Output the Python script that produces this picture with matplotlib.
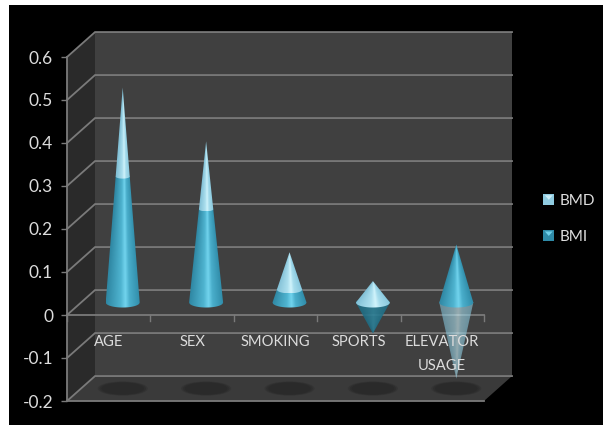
import matplotlib
matplotlib.use("Agg")
import matplotlib.pyplot as plt
from matplotlib.legend_handler import HandlerBase
from matplotlib.patches import Ellipse, Polygon, Rectangle
import numpy as np

plt.rcParams['font.family'] = ['Lato', 'DejaVu Sans']

categories = ["AGE", "SEX", "SMOKING", "SPORTS", "ELEVATOR\nUSAGE"]
bmi = [0.293, 0.217, 0.03, -0.072, 0.135]
bmd = [0.207, 0.158, 0.087, 0.05, -0.177]
y_ticks = [-0.2, -0.1, 0, 0.1, 0.2, 0.3, 0.4, 0.5, 0.6]
y_labels = ["-0.2", "-0.1", "0", "0.1", "0.2", "0.3", "0.4", "0.5", "0.6"]

W, H = 603, 425

# depth of the box, in data units
DEPTH_X = 0.336
DEPTH_Y = 0.058
# cone base radii, in data units
BASE_RX = 0.204
BASE_RY = 0.0116

LINE = "#7a7a7a"
TEXT = "#dcdcdc"

# colour stops across a cone, left edge to right edge
BMI_RAMP = [(0.0, "#2f87a3"), (0.42, "#4fb4d0"), (0.56, "#72d4ee"), (0.68, "#4aaecb"), (1.0, "#2f8ba8")]
BMI_DOWN_RAMP = [(0.0, "#1f6d84"), (0.5, "#2f8299"), (1.0, "#1f6f86")]
BMD_RAMP = [(0.0, "#82c0d6"), (0.42, "#acdfee"), (0.56, "#d2f4fc"), (0.68, "#a6dcec"), (1.0, "#86c6dc")]


def ramp_colors(ramp, u):
    pos = [s[0] for s in ramp]
    rgb = np.array([matplotlib.colors.to_rgb(s[1]) for s in ramp])
    return np.stack([np.interp(u, pos, rgb[:, c]) for c in range(3)], axis=-1)


def draw_segment(ax, xc, base_y, total, v0, v1, ramp, alpha, z):
    # one stretch of a cone whose base sits on 0 and whose tip is at total
    low, high = min(v0, v1), max(v0, v1)
    r_low = 1 - low / total
    r_high = 1 - high / total
    t = np.linspace(-1, 1, 60)
    arc = np.sqrt(1 - t ** 2)
    lower = np.column_stack([xc + t * BASE_RX * r_low,
                             base_y + low - arc * BASE_RY * r_low])
    upper = np.column_stack([xc - t * BASE_RX * r_high,
                             base_y + high + arc * BASE_RY * r_high])
    outline = np.vstack([lower, upper])
    clip = Polygon(outline, closed=True, transform=ax.transData)

    x0, x1 = xc - BASE_RX, xc + BASE_RX
    y0, y1 = outline[:, 1].min(), outline[:, 1].max()
    gx, gy = np.meshgrid(np.linspace(x0, x1, 80), np.linspace(y0, y1, 200))
    radius = np.maximum(1 - (gy - base_y) / total, 0.02)
    u = np.clip((gx - xc) / (BASE_RX * radius) * 0.5 + 0.5, 0, 1)
    rgba = np.dstack([ramp_colors(ramp, u), np.full(u.shape, alpha)])
    im = ax.imshow(rgba, extent=(x0, x1, y0, y1), origin='lower', aspect='auto',
                   interpolation='bilinear', zorder=z)
    im.set_clip_path(clip)


class PyramidHandler(HandlerBase):
    # legend key: a square with a lighter triangle on its top side
    def __init__(self, dark, light):
        super().__init__()
        self.dark = dark
        self.light = light

    def create_artists(self, legend, orig_handle, xdescent, ydescent, width, height, fontsize, trans):
        s = height * 1.0
        x = (width - s) / 2
        box = Rectangle((x, 0), s, s, facecolor=self.dark, edgecolor='none', transform=trans)
        tri = Polygon([(x + 1, s - 1), (x + s - 1, s - 1), (x + s / 2, s * 0.45)],
                      facecolor=self.light, edgecolor='none', transform=trans)
        return [box, tri]


fig = plt.figure(figsize=(W / 100, H / 100), dpi=100, facecolor="white")
fig.patches.append(Rectangle((9 / W, 0), 1, 1 - 5 / H, transform=fig.transFigure,
                             facecolor="black", edgecolor='none', zorder=-5))

ax = fig.add_axes([67 / W, 1 - 401 / H, (484 - 67) / W, (401 - 57) / H])
ax.patch.set_visible(False)
n = len(categories)
xmin, xmax = -0.5, n - 0.5
ymin, ymax = y_ticks[0], y_ticks[-1]

# box walls
ax.add_patch(Polygon([(xmin, ymin), (xmin, ymax), (xmin + DEPTH_X, ymax + DEPTH_Y), (xmin + DEPTH_X, ymin + DEPTH_Y)],
                     facecolor="#2a2a2a", edgecolor='none', clip_on=False, zorder=1))
ax.add_patch(Rectangle((xmin + DEPTH_X, ymin + DEPTH_Y), xmax - xmin, ymax - ymin,
                       facecolor="#404040", edgecolor='none', clip_on=False, zorder=1))
ax.add_patch(Polygon([(xmin, ymin), (xmax, ymin), (xmax + DEPTH_X, ymin + DEPTH_Y), (xmin + DEPTH_X, ymin + DEPTH_Y)],
                     facecolor="#3a3a3a", edgecolor='none', clip_on=False, zorder=1))

# gridlines run along the side wall and the back wall
for v in y_ticks:
    ax.plot([xmin, xmin + DEPTH_X, xmax + DEPTH_X], [v, v + DEPTH_Y, v + DEPTH_Y],
            color=LINE, lw=1.3, clip_on=False, zorder=2, solid_joinstyle='miter')

# front edges, category axis on zero
ax.plot([xmin, xmax], [ymin, ymin], color=LINE, lw=1.3, clip_on=False, zorder=3)
ax.plot([xmin, xmax], [0, 0], color=LINE, lw=1.3, clip_on=False, zorder=3)
for i in range(n + 1):
    ax.plot([xmin + i, xmin + i], [0, -0.014], color=LINE, lw=1.0, clip_on=False, zorder=3)

# soft shadows on the floor
for i in range(n):
    for scale, shade in ((1.0, "#343434"), (0.93, "#2e2e2e"), (0.85, "#2a2a2a")):
        ax.add_patch(Ellipse((i + DEPTH_X / 2, ymin + DEPTH_Y / 2), 0.6 * scale, 0.033 * scale,
                             facecolor=shade, edgecolor='none', zorder=3))

# cones, stacked where both series have the same sign
for i in range(n):
    xc = i + DEPTH_X / 2
    base_y = DEPTH_Y / 2
    a, b = bmi[i], bmd[i]
    if a * b > 0:
        total = a + b
        draw_segment(ax, xc, base_y, total, 0, a, BMI_RAMP, 1.0, 5)
        draw_segment(ax, xc, base_y, total, a, total, BMD_RAMP, 1.0, 6)
    else:
        if a < 0:
            draw_segment(ax, xc, base_y, a, 0, a, BMI_DOWN_RAMP, 0.9, 5)
        else:
            draw_segment(ax, xc, base_y, a, 0, a, BMI_RAMP, 1.0, 6)
        if b < 0:
            draw_segment(ax, xc, base_y, b, 0, b, BMD_RAMP, 0.6, 5)
        else:
            draw_segment(ax, xc, base_y, b, 0, b, BMD_RAMP, 1.0, 6)

ax.set_xlim(xmin, xmax)
ax.set_ylim(ymin, ymax)

for side in ax.spines:
    ax.spines[side].set_visible(False)
ax.spines['left'].set_visible(True)
ax.spines['left'].set_color(LINE)
ax.spines['left'].set_linewidth(1.3)
ax.spines['left'].set_zorder(3)

ax.set_xticks([])
ax.set_yticks(y_ticks)
ax.set_yticklabels(y_labels, fontsize=12.5, color=TEXT)
ax.tick_params(axis='y', color=LINE, length=4, width=1.0, pad=6)

for i, name in enumerate(categories):
    ax.text(i, -0.047, name, ha='center', va='top', color=TEXT, fontsize=10.6,
            linespacing=1.9, zorder=8)

handles = [Rectangle((0, 0), 1, 1), Rectangle((0, 0), 1, 1)]
leg = ax.legend(handles, ["BMD", "BMI"],
                handler_map={handles[0]: PyramidHandler("#8fcbe0", "#cdeef8"),
                             handles[1]: PyramidHandler("#2f8ba8", "#6fd0ea")},
                loc='center left', bbox_to_anchor=(1.137, 0.53), bbox_transform=ax.transAxes,
                frameon=False, fontsize=11, labelcolor=TEXT, labelspacing=1.45,
                handlelength=1.0, handletextpad=0.2, borderpad=0, borderaxespad=0)

fig.savefig("out.png", dpi=100, facecolor=fig.get_facecolor())
